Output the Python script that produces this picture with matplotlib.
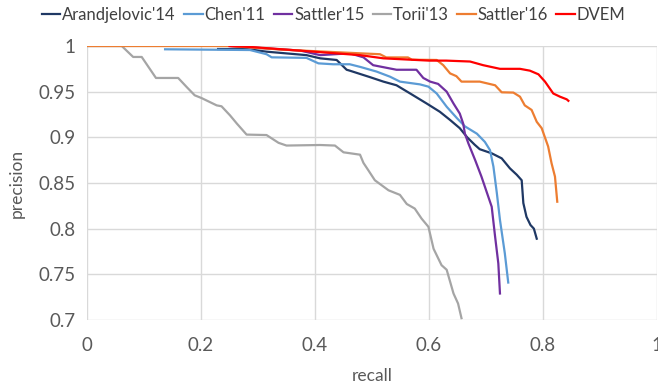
import matplotlib
matplotlib.use("Agg")
import matplotlib.pyplot as plt

plt.rcParams['font.family'] = ['Lato', 'DejaVu Sans']

# ---- data ----
aran_x = [0.230, 0.280, 0.315, 0.385, 0.409, 0.438, 0.4555, 0.461, 0.496, 0.520, 0.543, 0.567,
          0.596, 0.619, 0.637, 0.654, 0.667, 0.680, 0.689, 0.710, 0.7275, 0.742, 0.754, 0.7626,
          0.7655, 0.771, 0.778, 0.784, 0.789]
aran_y = [0.9967, 0.9967, 0.9938, 0.990, 0.9865, 0.9847, 0.974, 0.973, 0.966, 0.961, 0.957, 0.948,
          0.937, 0.928, 0.919, 0.910, 0.900, 0.892, 0.887, 0.8825, 0.877, 0.866, 0.859, 0.853,
          0.828, 0.813, 0.804, 0.800, 0.789]

chen_x = [0.137, 0.286, 0.315, 0.324, 0.385, 0.406, 0.432, 0.461, 0.480, 0.508, 0.5316, 0.549,
          0.584, 0.599, 0.6135, 0.631, 0.649, 0.663, 0.684, 0.698, 0.707, 0.713, 0.719, 0.7245,
          0.733, 0.739]
chen_y = [0.9964, 0.9956, 0.991, 0.9876, 0.987, 0.981, 0.980, 0.980, 0.977, 0.972, 0.9664, 0.961,
          0.958, 0.9555, 0.948, 0.9335, 0.921, 0.912, 0.904, 0.895, 0.886, 0.868, 0.839, 0.8095,
          0.773, 0.741]

s15_x = [0.250, 0.274, 0.374, 0.409, 0.461, 0.485, 0.502, 0.543, 0.578, 0.590, 0.602, 0.616,
         0.631, 0.643, 0.654, 0.660, 0.663, 0.669, 0.681, 0.692, 0.704, 0.710, 0.716, 0.7216,
         0.7245]
s15_y = [1.000, 0.999, 0.995, 0.990, 0.992, 0.9876, 0.979, 0.974, 0.974, 0.965, 0.961, 0.9585,
         0.950, 0.937, 0.926, 0.915, 0.904, 0.8935, 0.875, 0.857, 0.835, 0.824, 0.791, 0.762,
         0.729]

torii_x = [0.0, 0.061, 0.081, 0.096, 0.121, 0.160, 0.175, 0.189, 0.201, 0.2275, 0.236, 0.251,
           0.263, 0.280, 0.315, 0.336, 0.350, 0.409, 0.435, 0.450, 0.479, 0.485, 0.4935, 0.505,
           0.529, 0.549, 0.561, 0.575, 0.587, 0.599, 0.608, 0.622, 0.631, 0.643, 0.651, 0.657]
torii_y = [1.0, 1.0, 0.988, 0.988, 0.965, 0.965, 0.955, 0.946, 0.943, 0.935, 0.934, 0.924,
           0.915, 0.903, 0.9025, 0.894, 0.891, 0.8916, 0.891, 0.8836, 0.881, 0.872, 0.864, 0.853,
           0.842, 0.837, 0.827, 0.822, 0.811, 0.802, 0.778, 0.760, 0.755, 0.729, 0.718, 0.702]

s16_x = [0.0, 0.250, 0.344, 0.479, 0.514, 0.525, 0.563, 0.570, 0.6135, 0.625, 0.637, 0.648,
         0.657, 0.689, 0.716, 0.7275, 0.748, 0.7596, 0.768, 0.780, 0.789, 0.7977, 0.809, 0.815,
         0.821, 0.825]
s16_y = [1.0, 1.0, 0.996, 0.992, 0.991, 0.9875, 0.9875, 0.985, 0.9847, 0.979, 0.970, 0.967,
         0.961, 0.961, 0.957, 0.9493, 0.949, 0.9445, 0.935, 0.930, 0.917, 0.910, 0.890, 0.8716,
         0.857, 0.8295]

dvem_x = [0.250, 0.286, 0.479, 0.520, 0.600, 0.630, 0.672, 0.695, 0.7245, 0.7596, 0.777, 0.792,
          0.8035, 0.818, 0.8298, 0.8416, 0.8445]
dvem_y = [1.000, 0.999, 0.990, 0.9865, 0.984, 0.984, 0.983, 0.979, 0.975, 0.975, 0.973, 0.969,
          0.961, 0.948, 0.9445, 0.9416, 0.940]

labels = ["Arandjelovic'14", "Chen'11", "Sattler'15", "Torii'13", "Sattler'16", "DVEM"]
colors = ["#1f3864", "#5b9bd5", "#7030a0", "#a5a5a5", "#ed7d31", "#ff0000"]

x_ticks = [0, 0.2, 0.4, 0.6, 0.8, 1.0]
x_tick_labels = ["0", "0.2", "0.4", "0.6", "0.8", "1"]
y_ticks = [0.7, 0.75, 0.8, 0.85, 0.9, 0.95, 1.0]
y_tick_labels = ["0.7", "0.75", "0.8", "0.85", "0.9", "0.95", "1"]

# ---- plot ----
fig = plt.figure(figsize=(6.58, 3.84), dpi=100)
ax = fig.add_axes([0.1322, 0.1667, 0.8663, 0.7135])

series = [(aran_x, aran_y), (chen_x, chen_y), (s15_x, s15_y),
          (torii_x, torii_y), (s16_x, s16_y), (dvem_x, dvem_y)]
for (xs, ys), lab, col in zip(series, labels, colors):
    ax.plot(xs, ys, color=col, lw=1.6, label=lab, solid_joinstyle='round')

ax.set_xlim(0, 1)
ax.set_ylim(0.7, 1.0)
ax.set_xticks(x_ticks)
ax.set_xticklabels(x_tick_labels)
ax.set_yticks(y_ticks)
ax.set_yticklabels(y_tick_labels)
ax.grid(True, color="#d9d9d9", lw=1.0)
ax.set_axisbelow(True)
for s in ax.spines.values():
    s.set_visible(False)
ax.tick_params(length=0, labelsize=13.5, labelcolor="#595959")
ax.tick_params(axis='x', pad=12)
ax.tick_params(axis='y', pad=8)

ax.set_xlabel("recall", fontsize=12.5, color="#595959", labelpad=10)
ax.set_ylabel("precision", fontsize=12.5, color="#595959", labelpad=10)

fig.legend(loc='center left', bbox_to_anchor=(42 / 658, 0.961), ncol=6, frameon=False,
           fontsize=12, handlelength=1.1, handletextpad=0.12, columnspacing=0.5,
           borderpad=0, borderaxespad=0, labelcolor="#404040")

fig.savefig("out.png", dpi=100)
